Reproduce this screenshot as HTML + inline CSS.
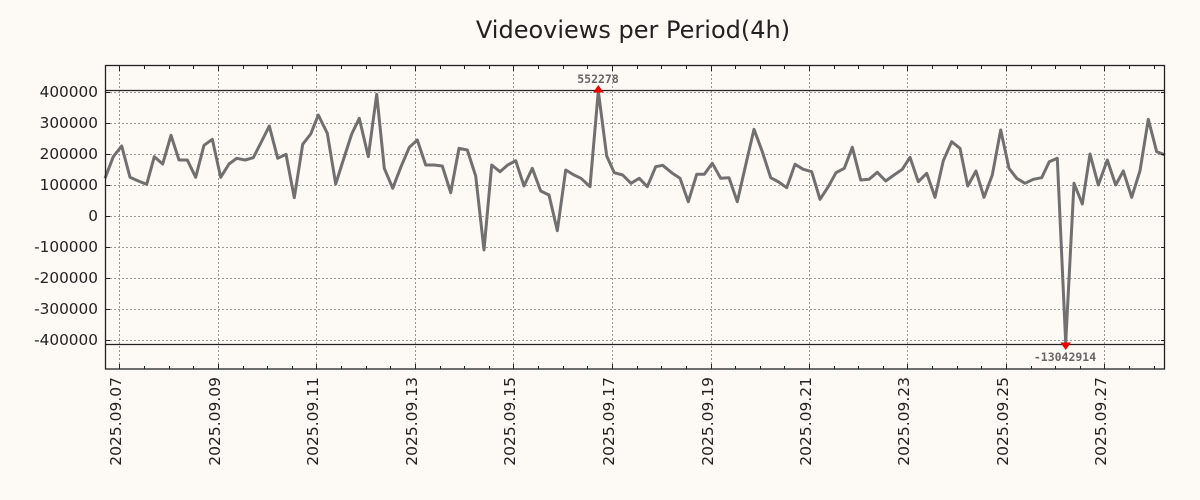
<!DOCTYPE html>
<html><head><meta charset="utf-8"><style>
html,body{margin:0;padding:0;background:#fdf9f5;}
svg{display:block;font-family:"DejaVu Sans","Liberation Sans",sans-serif;}
</style></head><body>
<svg width="1200" height="500" viewBox="0 0 1200 500" xmlns="http://www.w3.org/2000/svg">
<rect width="1200" height="500" fill="#fdf9f5"/>
<text x="633" y="38" font-size="24" text-anchor="middle" fill="#222">Videoviews per Period(4h)</text>
<g stroke="#999" stroke-width="1" stroke-dasharray="2,2">
<line x1="106" x2="1165" y1="92.5" y2="92.5"/>
<line x1="106" x2="1165" y1="123.5" y2="123.5"/>
<line x1="106" x2="1165" y1="154.5" y2="154.5"/>
<line x1="106" x2="1165" y1="185.5" y2="185.5"/>
<line x1="106" x2="1165" y1="216.5" y2="216.5"/>
<line x1="106" x2="1165" y1="247.5" y2="247.5"/>
<line x1="106" x2="1165" y1="278.5" y2="278.5"/>
<line x1="106" x2="1165" y1="309.5" y2="309.5"/>
<line x1="106" x2="1165" y1="340.5" y2="340.5"/>
<line y1="66" y2="369" x1="119.5" x2="119.5"/>
<line y1="66" y2="369" x1="218.5" x2="218.5"/>
<line y1="66" y2="369" x1="316.5" x2="316.5"/>
<line y1="66" y2="369" x1="415.5" x2="415.5"/>
<line y1="66" y2="369" x1="513.5" x2="513.5"/>
<line y1="66" y2="369" x1="612.5" x2="612.5"/>
<line y1="66" y2="369" x1="711.5" x2="711.5"/>
<line y1="66" y2="369" x1="809.5" x2="809.5"/>
<line y1="66" y2="369" x1="907.5" x2="907.5"/>
<line y1="66" y2="369" x1="1006.5" x2="1006.5"/>
<line y1="66" y2="369" x1="1104.5" x2="1104.5"/>
</g>
<g stroke="#222" stroke-width="1.3">
<line x1="106" x2="1165" y1="90.5" y2="90.5"/>
<line x1="106" x2="1165" y1="344.5" y2="344.5"/>
</g>
<polyline fill="none" stroke="#707070" stroke-width="3" stroke-linejoin="round" points="105,178.3 113.3,156.7 121.7,146 130,177.3 138.3,181 146.7,184.3 154.3,156.7 162.7,164 171,135.3 179,160 187.3,160 195.7,177.3 204,145.3 212.3,139.3 220.7,177.3 229,164 236.7,158.3 245,160 253.3,157.7 261.3,142 269.3,126 277.7,158.3 286,154.3 294.3,197.7 302.7,144.3 310.7,134 318.3,115 327.3,133.3 335.7,184 343.3,160 351.7,134 359.3,118.3 368.3,156.7 376.7,94.3 384.3,168.3 392.7,188.3 401,166.7 409.3,147.3 417.3,140 425.7,165 434,165 442.3,166 450.7,192.7 459,148.3 467.3,150 475.7,176 484,250 491.7,165 500,171.7 507.7,165 515.7,160.7 524,186 532.3,168.3 540.7,191 549,195 557.3,230.7 565.7,170 574,175 581,178.3 590,186.7 598.3,91 606.7,156 614.3,172.7 622.7,175 631,183.3 639.3,178.3 647.3,186.7 655.7,166.7 662.7,165.3 671.7,172.7 680,178.3 688.3,201.7 696.7,174.3 704.3,174.3 712.3,163.3 720.7,178.3 729,177.7 737.3,201.7 745.7,165 754,129.3 762.3,151.7 770.7,177.7 778.7,182 786.7,187.7 795,164.3 803.3,169.3 811.7,171.7 820,199.3 828.3,186.7 836,172.7 844.3,168.3 852.3,147.3 860.7,180 869,179.3 877.3,172.3 885.7,181 894,175 902.3,169.3 910,157.3 918.3,181.7 926.7,173.3 935,197.3 943.3,160.7 951.7,141.7 960,148.3 967.7,186 976,171 984,197.3 992.3,175 1000.7,130 1009,168.3 1016.7,178.3 1025,183.3 1033.3,179.3 1041.7,177.7 1049.3,161.7 1057.3,158.3 1065.7,343 1074,183.3 1082.3,204 1090,154 1098.3,185 1107.3,160 1115.7,185 1123.3,171 1131.7,197.3 1140,170.7 1148.3,119.3 1156.7,151.7 1165,155"/>
<polygon points="598.3,85 593,92.5 603.6,92.5" fill="#e00"/>
<polygon points="1065.7,350 1060.4,342.5 1071,342.5" fill="#e00"/>
<text x="598" y="83" font-size="11.5" font-weight="bold" text-anchor="middle" fill="#666" font-family="DejaVu Sans Mono,Liberation Mono,monospace">552278</text>
<text x="1065" y="361" font-size="11.5" font-weight="bold" text-anchor="middle" fill="#666" font-family="DejaVu Sans Mono,Liberation Mono,monospace">-13042914</text>
<rect x="105.5" y="65.5" width="1059" height="303.5" fill="none" stroke="#222" stroke-width="1.3"/>
<g stroke="#222" stroke-width="1">
<path d="M106 92.5h4M106 123.5h4M106 154.5h4M106 185.5h4M106 216.5h4M106 247.5h4M106 278.5h4M106 309.5h4M106 340.5h4"/>
<path d="M1165 92.5h-4M1165 123.5h-4M1165 154.5h-4M1165 185.5h-4M1165 216.5h-4M1165 247.5h-4M1165 278.5h-4M1165 309.5h-4M1165 340.5h-4"/>
<path d="M119.5 369v-5M144.5 369v-3M169.5 369v-3M193.5 369v-3M218.5 369v-5M243.5 369v-3M267.5 369v-3M292.5 369v-3M316.5 369v-5M341.5 369v-3M366.5 369v-3M390.5 369v-3M415.5 369v-5M440.5 369v-3M464.5 369v-3M489.5 369v-3M513.5 369v-5M538.5 369v-3M563.5 369v-3M587.5 369v-3M612.5 369v-5M637.5 369v-3M661.5 369v-3M686.5 369v-3M711.5 369v-5M735.5 369v-3M760.5 369v-3M784.5 369v-3M809.5 369v-5M834.5 369v-3M858.5 369v-3M883.5 369v-3M907.5 369v-5M932.5 369v-3M957.5 369v-3M981.5 369v-3M1006.5 369v-5M1031.5 369v-3M1055.5 369v-3M1080.5 369v-3M1104.5 369v-5M1129.5 369v-3M1154.5 369v-3"/>
<path d="M119.5 66v5M144.5 66v3M169.5 66v3M193.5 66v3M218.5 66v5M243.5 66v3M267.5 66v3M292.5 66v3M316.5 66v5M341.5 66v3M366.5 66v3M390.5 66v3M415.5 66v5M440.5 66v3M464.5 66v3M489.5 66v3M513.5 66v5M538.5 66v3M563.5 66v3M587.5 66v3M612.5 66v5M637.5 66v3M661.5 66v3M686.5 66v3M711.5 66v5M735.5 66v3M760.5 66v3M784.5 66v3M809.5 66v5M834.5 66v3M858.5 66v3M883.5 66v3M907.5 66v5M932.5 66v3M957.5 66v3M981.5 66v3M1006.5 66v5M1031.5 66v3M1055.5 66v3M1080.5 66v3M1104.5 66v5M1129.5 66v3M1154.5 66v3"/>
</g>
<g font-size="15.3" fill="#222" text-anchor="end">
<text x="98" y="97">400000</text>
<text x="98" y="128">300000</text>
<text x="98" y="159">200000</text>
<text x="98" y="190">100000</text>
<text x="98" y="221">0</text>
<text x="98" y="252">-100000</text>
<text x="98" y="283">-200000</text>
<text x="98" y="314">-300000</text>
<text x="98" y="345">-400000</text>
</g>
<g font-size="15.5" fill="#222" text-anchor="end">
<text transform="translate(121,377) rotate(-90)">2025.09.07</text>
<text transform="translate(220,377) rotate(-90)">2025.09.09</text>
<text transform="translate(318,377) rotate(-90)">2025.09.11</text>
<text transform="translate(417,377) rotate(-90)">2025.09.13</text>
<text transform="translate(515,377) rotate(-90)">2025.09.15</text>
<text transform="translate(614,377) rotate(-90)">2025.09.17</text>
<text transform="translate(713,377) rotate(-90)">2025.09.19</text>
<text transform="translate(811,377) rotate(-90)">2025.09.21</text>
<text transform="translate(909,377) rotate(-90)">2025.09.23</text>
<text transform="translate(1008,377) rotate(-90)">2025.09.25</text>
<text transform="translate(1106,377) rotate(-90)">2025.09.27</text>
</g>
</svg>
</body></html>
